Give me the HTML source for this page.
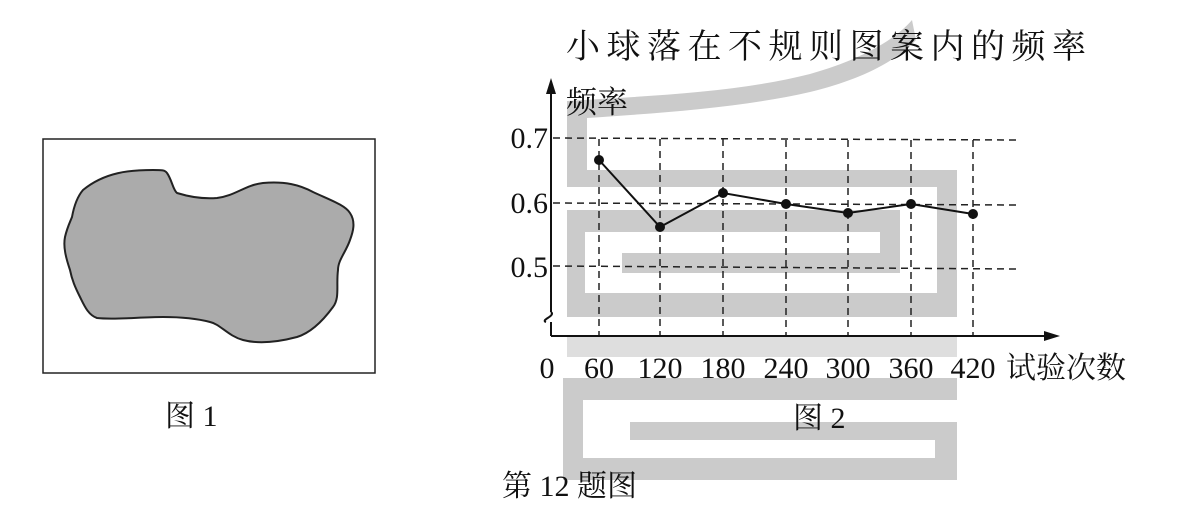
<!DOCTYPE html>
<html><head><meta charset="utf-8"><style>
html,body{margin:0;padding:0;background:#fff;}
svg{display:block;}
text{font-family:"Liberation Serif","Noto Serif CJK SC",serif;fill:#111;}
</style></head><body>
<svg width="1196" height="509" viewBox="0 0 1196 509" xmlns="http://www.w3.org/2000/svg">
<rect width="1196" height="509" fill="#fff"/>
<!-- watermark -->
<g fill="#cbcbcb">
<path d="M567,101 C650,96 740,92 810,74 C860,60 895,40 912,20 L916,40 C895,62 860,80 810,92 C740,108 660,113 587,118 L587,187 L567,187 Z"/>
<rect x="567" y="170" width="390" height="17"/>
<rect x="937" y="170" width="20" height="147"/>
<rect x="567" y="293" width="390" height="24"/>
<rect x="567" y="210" width="18" height="107"/>
<rect x="567" y="210" width="333" height="22"/>
<rect x="880" y="210" width="20" height="63"/>
<rect x="622" y="253" width="278" height="20"/>
<rect x="567" y="337" width="390" height="20" fill="#dedede"/>
<rect x="563" y="378" width="394" height="22"/>
<rect x="563" y="378" width="20" height="102"/>
<rect x="563" y="458" width="394" height="22"/>
<rect x="935" y="422" width="22" height="58"/>
<rect x="630" y="422" width="327" height="18"/>
</g>
<!-- figure 1 -->
<rect x="43" y="139" width="332" height="234" fill="none" stroke="#222" stroke-width="1.5"/>
<path d="M83,190 C105,172 130,170 153,170 C162,170 165,170 167,173 C172,180 173,190 177,193 C190,197 205,199 217,198 C235,196 245,185 263,183 C285,181 300,185 313,192 C330,200 345,205 350,213 C356,222 353,232 350,240 C346,252 338,260 338,270 C336,285 340,298 333,307 C322,322 310,333 297,337 C278,342 258,344 243,340 C228,336 220,324 210,322 C195,318 180,317 163,317 C140,317 115,320 97,318 C88,315 84,305 80,297 C75,287 72,280 70,270 C66,258 63,247 65,237 C67,228 70,222 72,217 C74,206 77,197 83,190 Z" fill="#ababab" stroke="#222" stroke-width="2"/>
<text x="165" y="426" font-size="30">图 1</text>
<!-- figure 2 -->
<text x="566" y="58" font-size="34" letter-spacing="6.5">小球落在不规则图案内的频率</text>
<text x="566" y="113" font-size="31">频率</text>
<g stroke="#222" stroke-width="1.5" stroke-dasharray="7,5" fill="none">
<line x1="553" y1="138" x2="1018" y2="140"/>
<line x1="553" y1="203" x2="1018" y2="205"/>
<line x1="553" y1="266" x2="1018" y2="269"/>
<line x1="599" y1="139" x2="599" y2="336"/>
<line x1="660" y1="139" x2="660" y2="336"/>
<line x1="723" y1="139" x2="723" y2="336"/>
<line x1="786" y1="140" x2="786" y2="336"/>
<line x1="848" y1="140" x2="848" y2="336"/>
<line x1="911" y1="140" x2="911" y2="336"/>
<line x1="973" y1="140" x2="973" y2="336"/>
</g>
<g stroke="#111" stroke-width="2" fill="none">
<path d="M551,336 L551,322 M551,312 L551,85"/>
<path d="M546,322 C540,320 556,316 551,312" />
<line x1="551" y1="336" x2="1050" y2="336"/>
</g>
<path d="M551,78 L546,94 L556,94 Z" fill="#111"/>
<path d="M1060,336 L1044,331 L1044,341 Z" fill="#111"/>
<polyline points="599,160 660,227 723,193 786,204 848,213 911,204 973,214" fill="none" stroke="#111" stroke-width="2"/>
<g fill="#111">
<circle cx="599" cy="160" r="5"/><circle cx="660" cy="227" r="5"/><circle cx="723" cy="193" r="5"/>
<circle cx="786" cy="204" r="5"/><circle cx="848" cy="213" r="5"/><circle cx="911" cy="204" r="5"/><circle cx="973" cy="214" r="5"/>
</g>
<g font-size="30" text-anchor="end">
<text x="548" y="148">0.7</text>
<text x="548" y="213">0.6</text>
<text x="548" y="277">0.5</text>
</g>
<g font-size="30" text-anchor="middle">
<text x="547" y="378">0</text>
<text x="599" y="378">60</text>
<text x="660" y="378">120</text>
<text x="723" y="378">180</text>
<text x="786" y="378">240</text>
<text x="848" y="378">300</text>
<text x="911" y="378">360</text>
<text x="973" y="378">420</text>
</g>
<text x="1006" y="378" font-size="30">试验次数</text>
<text x="793" y="428" font-size="30">图 2</text>
<text x="502" y="496" font-size="30">第 12 题图</text>
</svg>
</body></html>
